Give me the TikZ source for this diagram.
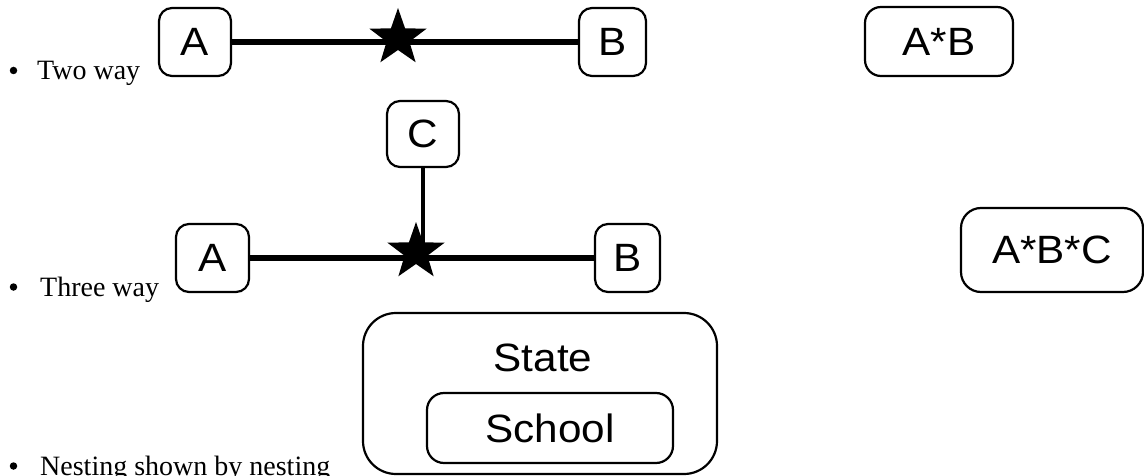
\documentclass[tikz,border=0pt]{standalone}
\usepackage{fontspec}
\setmainfont{Liberation Serif}
\newfontfamily\boxfont[FakeStretch=1.07]{Liberation Sans}
\usetikzlibrary{shapes.geometric}
\begin{document}
\begin{tikzpicture}[x=1pt,y=-1pt,
  box/.style={draw, line width=2.2pt, rounded corners=13pt, inner sep=0pt,
    font=\boxfont\fontsize{39.5}{42}\selectfont},
  plain/.style={inner sep=0pt, font=\boxfont\fontsize{39.5}{42}\selectfont},
  conn/.style={line width=5.5pt},
  vconn/.style={line width=4.7pt},
  starnode/.style={star, star points=5, star point ratio=2.5, fill=black,
    inner sep=0pt, minimum size=60pt},
  label/.style={anchor=base west, inner sep=0pt, font=\fontsize{28}{30}\selectfont},
  dot/.style={circle, fill=black, inner sep=0pt, minimum size=7.5pt}]
\useasboundingbox (0,0) rectangle (1144,476);

% Two way
\node[dot] (d1) at (13.5,70.5) {};
\node[label] (t1) at (37,80) {Two way};
\node[box, minimum width=72pt, minimum height=68pt] (a1) at (195,42) {A};
\node[box, minimum width=67pt, minimum height=68pt] (b1) at (612.5,42) {B};
\draw[conn] (a1) -- (b1);
\node[starnode] (s1) at (398,38) {};
\node[box, minimum width=148pt, minimum height=69pt, rounded corners=16pt] (ab) at (939,41.5) {A*B};

% Three way
\node[dot] (d2) at (13.5,287) {};
\node[label] (t2) at (40,296) {Three way};
\node[box, minimum width=72pt, minimum height=66pt] (c) at (423,134) {C};
\node[box, minimum width=73pt, minimum height=68pt] (a2) at (212.5,258) {A};
\node[box, minimum width=65pt, minimum height=68pt] (b2) at (627.5,258) {B};
\draw[conn] (a2) -- (b2);
\node[starnode] (s2) at (416,252) {};
\draw[vconn] (c.south) -- (c.south |- s2.center);
\node[box, minimum width=182pt, minimum height=84pt, rounded corners=20pt] (abc) at (1052,250) {A*B*C};

% Nesting
\node[dot] (d3) at (13.5,466) {};
\node[label] (t3) at (40,475) {Nesting shown by nesting};
\node[box, minimum width=354pt, minimum height=161pt, rounded corners=33pt] (state) at (540,393.5) {};
\node[plain] (statelbl) at (543,358) {State};
\node[box, minimum width=246pt, minimum height=70pt, rounded corners=17pt] (school) at (550,428) {School};
\end{tikzpicture}
\end{document}
